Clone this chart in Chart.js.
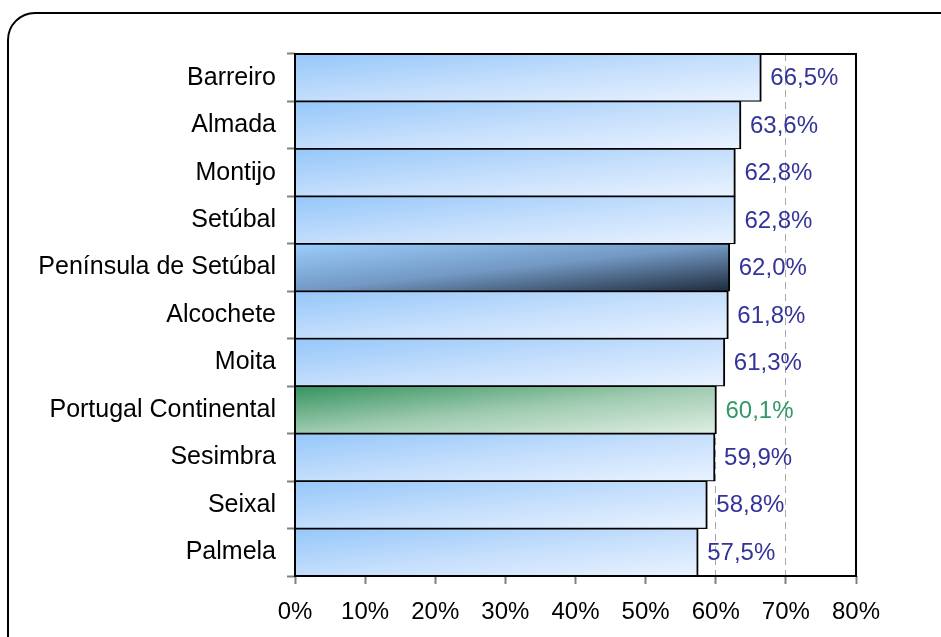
<!DOCTYPE html>
<html>
<head>
<meta charset="utf-8">
<script src="https://cdn.jsdelivr.net/npm/chart.js@4.4.0/dist/chart.umd.min.js"></script>
<style>
html, body { margin:0; padding:0; background:#fff; }
#wrap { position:relative; width:941px; height:637px; overflow:hidden; background:#fff; }
#moldura { position:absolute; left:7px; top:12px; width:1000px; height:700px; border:2px solid #000; border-radius:28px; box-sizing:border-box; }
#grafico { position:absolute; left:0; top:0; }
</style>
</head>
<body>
<div id="wrap">
  <div id="moldura"></div>
  <canvas id="grafico" width="941" height="637"></canvas>
</div>
<script>
// dados
var categorias = ["Barreiro", "Almada", "Montijo", "Setúbal", "Península de Setúbal", "Alcochete",
                  "Moita", "Portugal Continental", "Sesimbra", "Seixal", "Palmela"];
var valores = [66.5, 63.6, 62.8, 62.8, 62.0, 61.8, 61.3, 60.1, 59.9, 58.8, 57.5];
var nomeRegiao = "Península de Setúbal";
var nomePais = "Portugal Continental";

var fonte = '"Liberation Sans", Arial, sans-serif';

function coresBarra(i){
    if (categorias[i] === nomeRegiao) return ["#9bcdfc", "#7399c4", "#1e2a3b"];
    if (categorias[i] === nomePais) return ["#35935f", "#9fcbb0", "#e0eee4"];
    return ["#95c7fa", "#c4defc", "#eaf3ff"];
}

// degradê diagonal (canto sup. esq. -> canto inf. dir.)
function gradienteBarra(ctx){
    var chart = ctx.chart;
    var i = ctx.dataIndex;
    var cores = coresBarra(i);
    if (!chart.chartArea || i === undefined) return cores[0];
    var xs = chart.scales.x, ys = chart.scales.y;
    var x0 = xs.getPixelForValue(0);
    var x1 = xs.getPixelForValue(valores[i]);
    var h = (ys.bottom - ys.top) / categorias.length;
    var y0 = ys.getPixelForValue(i) - h/2;
    var w = x1 - x0;
    var k = 2*w*h/(w*w + h*h);
    var g = chart.ctx.createLinearGradient(x0, y0, x0 + k*h, y0 + k*w);
    g.addColorStop(0, cores[0]);
    g.addColorStop(0.5, cores[1]);
    g.addColorStop(1, cores[2]);
    return g;
}

var rotulos = {
    id: 'rotulos',
    afterDatasetsDraw: function(chart){
        var c = chart.ctx;
        var meta = chart.getDatasetMeta(0);
        c.save();
        c.font = '24px ' + fonte;
        c.textBaseline = 'middle';
        c.textAlign = 'left';
        meta.data.forEach(function(bar, i){
            c.fillStyle = categorias[i] === nomePais ? '#339966' : '#333399';
            c.fillText(valores[i].toFixed(1).replace('.', ',') + '%', bar.x + 9, bar.y + 1);
        });
        var a = chart.chartArea;
        c.strokeStyle = '#000';
        c.lineWidth = 2;
        c.strokeRect(a.left, a.top, a.right - a.left, a.bottom - a.top);
        c.restore();
    }
};

new Chart(document.getElementById('grafico'), {
    type: 'bar',
    data: {
        labels: categorias,
        datasets: [{
            data: valores,
            backgroundColor: gradienteBarra,
            borderColor: '#000',
            borderWidth: {top: 1.2, bottom: 1.2, left: 0, right: 2},
            borderSkipped: false,
            categoryPercentage: 1,
            barPercentage: 1
        }]
    },
    options: {
        indexAxis: 'y',
        responsive: false,
        animation: false,
        devicePixelRatio: 1,
        layout: { padding: { top: 54, right: 85, left: 0, bottom: 0 } },
        plugins: { legend: { display: false }, tooltip: { enabled: false } },
        scales: {
            x: {
                min: 0, max: 80,
                afterFit: function(s){ s.height = 61; },
                ticks: {
                    stepSize: 10,
                    color: '#000',
                    padding: 14,
                    font: { family: fonte, size: 24 },
                    callback: function(v){ return v + '%'; }
                },
                grid: { color: '#a6a6a6', lineWidth: 1, tickLength: 8, tickColor: '#808080', tickWidth: 2 },
                border: { display: false, dash: [7, 5] }
            },
            y: {
                afterFit: function(s){ s.width = 295; },
                ticks: {
                    color: '#000',
                    padding: 11,
                    font: { family: fonte, size: 25 }
                },
                grid: { drawOnChartArea: false, offset: true, tickLength: 8, tickColor: '#808080', tickWidth: 2 },
                border: { display: false }
            }
        }
    },
    plugins: [rotulos]
});
</script>
</body>
</html>
